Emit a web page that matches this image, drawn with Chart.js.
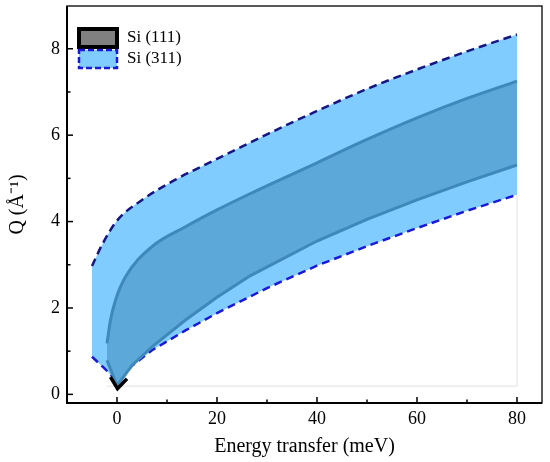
<!DOCTYPE html>
<html>
<head>
<meta charset="utf-8">
<script src="https://cdn.jsdelivr.net/npm/chart.js@4.4.1/dist/chart.umd.min.js"></script>
<style>
  html, body { margin: 0; padding: 0; background: #fff; }
  #wrap { width: 550px; height: 462px; }
</style>
</head>
<body>
<div id="wrap"><canvas id="chart"></canvas></div>
<script>
// Si (311) band edges (dashed)
const si311UpperX = [-5, -3, 0, 5, 11.7, 20, 30, 40, 50, 60, 70, 80];
const si311UpperQ = [2.97, 3.46, 4.02, 4.5, 4.97, 5.45, 6.02, 6.56, 7.07, 7.52, 7.94, 8.33];
const si311LowerX = [-5, -2.5, 0, 3, 7, 13.7, 20, 30, 40, 50, 60, 70, 80];
const si311LowerQ = [0.87, 0.6, 0.3, 0.66, 1.02, 1.48, 1.88, 2.46, 2.98, 3.43, 3.85, 4.25, 4.62];

// Si (111) band edges (solid)
const si111UpperX = [-2, -1.3, -0.3, 1.7, 7, 13.7, 20, 26.7, 40, 50, 60, 70, 80];
const si111UpperQ = [1.18, 1.72, 2.18, 2.72, 3.42, 3.88, 4.27, 4.65, 5.36, 5.9, 6.4, 6.85, 7.25];
const si111LowerX = [-2, 0, 3, 7, 13.7, 20, 26.7, 40, 50, 60, 70, 80];
const si111LowerQ = [0.79, 0.2, 0.67, 1.1, 1.72, 2.25, 2.75, 3.55, 4.05, 4.5, 4.92, 5.31];

// black tip of the Si (111) outline and faint frame line
const tipX = [-1.3, 0.1, 2];
const tipQ = [0.4, 0.13, 0.36];
const frameX = [-2, 80, 80];
const frameQ = [0.19, 0.19, 4.6];

const legendLabels = ['Si (111)', 'Si (311)'];
const xTickLabels = [0, 20, 40, 60, 80];
const yTickLabels = [0, 2, 4, 6, 8];

const LIGHT = 'rgb(128,204,255)';
const DARK = 'rgb(92,168,217)';
const LINE = 'rgb(62,136,186)';
const SERIF = "'Liberation Serif', 'Times New Roman', serif";

const pts = (xs, ys) => xs.map((x, i) => ({ x, y: ys[i] }));

// frame, inward ticks and the legend box inside the plot
const decorations = {
  id: 'decorations',
  afterDraw(chart) {
    const { ctx, chartArea: a, scales } = chart;
    ctx.save();
    ctx.strokeStyle = '#000';
    ctx.lineWidth = 1.3;
    ctx.strokeRect(a.left, a.top, a.right - a.left, a.bottom - a.top);
    ctx.lineWidth = 2;
    ctx.beginPath();
    ctx.moveTo(a.left, a.top);
    ctx.lineTo(a.left, a.bottom);
    ctx.lineTo(a.right, a.bottom);
    ctx.stroke();

    ctx.lineWidth = 1.5;
    scales.x.ticks.forEach(t => {
      const px = scales.x.getPixelForValue(t.value);
      const len = xTickLabels.includes(t.value) ? 6 : 3.5;
      ctx.beginPath();
      ctx.moveTo(px, a.bottom);
      ctx.lineTo(px, a.bottom - len);
      ctx.stroke();
    });
    scales.y.ticks.forEach(t => {
      const py = scales.y.getPixelForValue(t.value);
      const len = yTickLabels.includes(t.value) ? 6 : 3.5;
      ctx.beginPath();
      ctx.moveTo(a.left, py);
      ctx.lineTo(a.left + len, py);
      ctx.stroke();
    });

    // legend
    const bx = a.left + 12, by = a.top + 23, bw = 38, bh = 18;
    ctx.fillStyle = '#808080';
    ctx.fillRect(bx, by, bw, bh);
    ctx.strokeStyle = '#000';
    ctx.lineWidth = 4;
    ctx.strokeRect(bx, by, bw, bh);
    ctx.fillStyle = LIGHT;
    ctx.fillRect(bx, by + 21, bw, bh);
    ctx.strokeStyle = 'rgb(25,25,215)';
    ctx.lineWidth = 2.5;
    ctx.setLineDash([6, 3]);
    ctx.strokeRect(bx, by + 21, bw, bh);
    ctx.setLineDash([]);
    ctx.fillStyle = '#000';
    ctx.font = '17px ' + SERIF;
    ctx.textBaseline = 'middle';
    ctx.fillText(legendLabels[0], bx + 48, by + bh / 2);
    ctx.fillText(legendLabels[1], bx + 48, by + 21 + bh / 2);
    ctx.restore();
  }
};

new Chart(document.getElementById('chart'), {
  type: 'line',
  data: {
    datasets: [
      {
        label: 'Si (311) upper',
        data: pts(si311UpperX, si311UpperQ),
        borderColor: 'rgb(22,22,130)',
        borderWidth: 2.5,
        borderDash: [8, 5],
        backgroundColor: LIGHT,
        fill: 1,
        cubicInterpolationMode: 'monotone',
        pointRadius: 0,
        order: 4
      },
      {
        label: 'Si (311) lower',
        data: pts(si311LowerX, si311LowerQ),
        borderColor: 'rgb(25,25,215)',
        borderWidth: 2.5,
        borderDash: [8, 5],
        fill: false,
        tension: 0,
        pointRadius: 0,
        order: 3
      },
      {
        label: 'Si (111) upper',
        data: pts(si111UpperX, si111UpperQ),
        borderColor: LINE,
        borderWidth: 3,
        backgroundColor: DARK,
        fill: 3,
        cubicInterpolationMode: 'monotone',
        pointRadius: 0,
        order: 2
      },
      {
        label: 'Si (111) lower',
        data: pts(si111LowerX, si111LowerQ),
        borderColor: LINE,
        borderWidth: 3,
        fill: false,
        tension: 0,
        pointRadius: 0,
        order: 1
      },
      {
        label: 'tip',
        data: pts(tipX, tipQ),
        borderColor: '#000',
        borderWidth: 3.5,
        fill: false,
        tension: 0,
        pointRadius: 0,
        order: 0
      },
      {
        label: 'frame',
        data: pts(frameX, frameQ),
        borderColor: 'rgb(225,225,225)',
        borderWidth: 1,
        fill: false,
        tension: 0,
        pointRadius: 0,
        order: 10
      }
    ]
  },
  options: {
    responsive: true,
    maintainAspectRatio: false,
    animation: false,
    events: [],
    layout: { padding: { top: 6, right: 8 } },
    plugins: { legend: { display: false }, tooltip: { enabled: false } },
    scales: {
      x: {
        type: 'linear',
        min: -10,
        max: 85,
        grid: { display: false, drawTicks: false },
        border: { display: false },
        ticks: {
          stepSize: 10,
          includeBounds: false,
          autoSkip: false,
          maxRotation: 0,
          padding: 5,
          color: '#000',
          font: { family: SERIF, size: 18 },
          callback: v => (xTickLabels.includes(v) ? String(v) : '')
        },
        title: {
          display: true,
          text: 'Energy transfer (meV)',
          color: '#000',
          font: { family: SERIF, size: 20 },
          padding: { bottom: 3 }
        },
        afterFit: s => { s.height = 59; s.paddingLeft = 0; s.paddingRight = 0; }
      },
      y: {
        type: 'linear',
        min: -0.2,
        max: 8.99,
        grid: { display: false, drawTicks: false },
        border: { display: false },
        ticks: {
          stepSize: 1,
          includeBounds: false,
          autoSkip: false,
          padding: 7,
          color: '#000',
          font: { family: SERIF, size: 18 },
          callback: v => (yTickLabels.includes(v) ? String(v) : '')
        },
        title: {
          display: true,
          text: 'Q (Å⁻¹)',
          color: '#000',
          font: { family: SERIF, size: 20 },
          padding: { top: 6 }
        },
        afterFit: s => { s.width = 67; s.paddingTop = 0; s.paddingBottom = 0; }
      }
    }
  },
  plugins: [decorations]
});
</script>
</body>
</html>
